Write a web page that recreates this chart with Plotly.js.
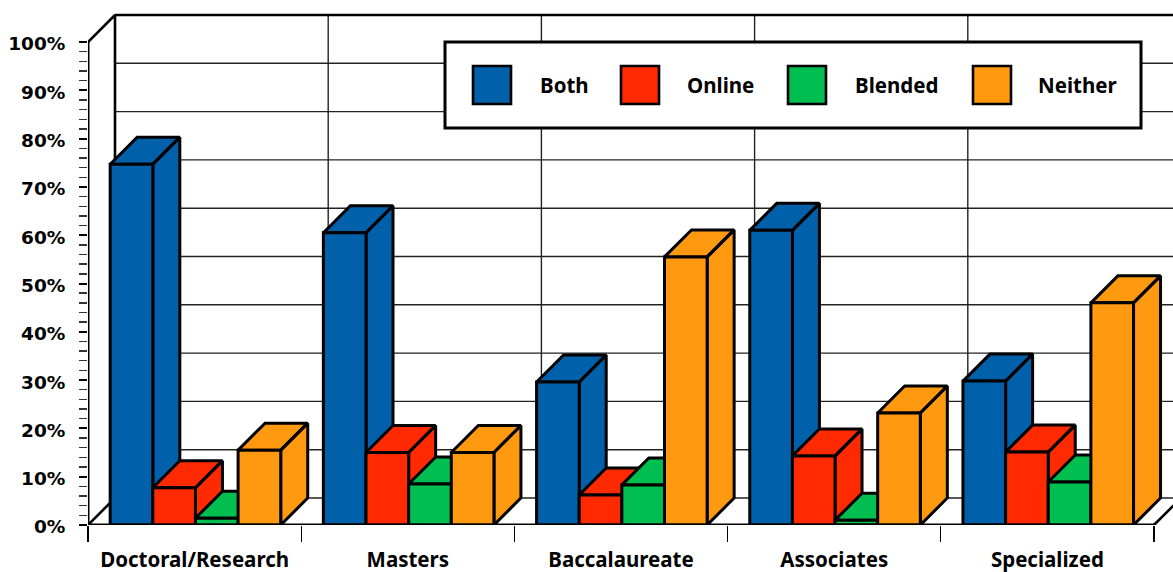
<!DOCTYPE html>
<html>
<head>
<meta charset="utf-8">
<script src="https://cdn.plot.ly/plotly-3.0.1.min.js"></script>
<style>html,body{margin:0;padding:0;background:#fff;overflow:hidden}#chart{width:1173px;height:572px}</style>
</head>
<body>
<div id="chart"></div>
<script>
const categories = ["Doctoral/Research", "Masters", "Baccalaureate", "Associates", "Specialized"];
const seriesNames = ["Both", "Online", "Blended", "Neither"];
const both = [74.7, 60.5, 29.6, 61.0, 29.8];
const online = [7.7, 15.0, 6.2, 14.3, 15.1];
const blended = [1.4, 8.5, 8.3, 1.0, 8.9];
const neither = [15.5, 15.0, 55.5, 23.2, 46.0];
const seriesValues = [both, online, blended, neither];
const seriesColors = ["#0060AA", "#FF2A00", "#00BF50", "#FF9A10"];
const yTicks = [0, 10, 20, 30, 40, 50, 60, 70, 80, 90, 100];
const yTickText = ["0%", "10%", "20%", "30%", "40%", "50%", "60%", "70%", "80%", "90%", "100%"];
const yMinor = [2,4,6,8,12,14,16,18,22,24,26,28,32,34,36,38,42,44,46,48,52,54,56,58,62,64,66,68,72,74,76,78,82,84,86,88,92,94,96,98];

const W = 1173, H = 572, L = 88, T = 13, B = 525;
const CAT_PX = 213.2, PCT_PX = 4.83, DEPTH_PX = 27;
const DEPTH_X = DEPTH_PX / CAT_PX;
const DEPTH_Y = DEPTH_PX / PCT_PX;
const BAR_W = 0.2, GROUP_START = 0.104;
const INK = "#000";
const labelFont = {family: "Noto Sans, sans-serif", size: 20.5, color: "#000", weight: 700};
const yFont = {family: "DejaVu Sans, sans-serif", size: 18.5, color: "#000", weight: 700};

const traces = [];
const n = categories.length;

// back wall grid
const gx = [], gy = [];
yTicks.forEach(t => { gx.push(DEPTH_X, n + DEPTH_X, null); gy.push(t + DEPTH_Y, t + DEPTH_Y, null); });
for (let i = 1; i <= n; i++) { gx.push(i + DEPTH_X, i + DEPTH_X, null); gy.push(DEPTH_Y, 100 + DEPTH_Y, null); }
traces.push({type: "scatter", mode: "lines", x: gx, y: gy, line: {color: "#222", width: 1.4},
  hoverinfo: "skip", showlegend: false, zorder: 0});

// wall edges
traces.push({type: "scatter", mode: "lines",
  x: [0, DEPTH_X, DEPTH_X, null, DEPTH_X, n + DEPTH_X, null, 0, DEPTH_X, null, n, n + DEPTH_X],
  y: [100, 100 + DEPTH_Y, DEPTH_Y, null, 100 + DEPTH_Y, 100 + DEPTH_Y, null, 0, DEPTH_Y, null, 0, DEPTH_Y],
  line: {color: INK, width: 2.6}, hoverinfo: "skip", showlegend: false, zorder: 0});

seriesValues.forEach((vals, s) => {
  const px = [], py = [];
  vals.forEach((v, i) => {
    const x0 = i + GROUP_START + s * BAR_W, x1 = x0 + BAR_W;
    px.push(x1, x1, x1 + DEPTH_X, x1 + DEPTH_X, x1, null);
    py.push(0, v, v + DEPTH_Y, DEPTH_Y, 0, null);
    px.push(x0, x1, x1 + DEPTH_X, x0 + DEPTH_X, x0, null);
    py.push(v, v, v + DEPTH_Y, v + DEPTH_Y, v, null);
  });
  traces.push({type: "scatter", mode: "lines", x: px, y: py, fill: "toself", fillcolor: seriesColors[s],
    line: {color: INK, width: 3, shape: "linear"}, hoverinfo: "skip",
    showlegend: false, zorder: 2 * s + 1});
  traces.push({type: "bar", name: seriesNames[s],
    x: vals.map((_, i) => i + GROUP_START + s * BAR_W + BAR_W / 2), y: vals, width: BAR_W,
    marker: {color: seriesColors[s], line: {color: INK, width: 3}},
    showlegend: false, zorder: 2 * s + 2});
});

// front axis lines
traces.push({type: "scatter", mode: "lines", x: [0, 0, n], y: [100, 0, 0],
  line: {color: INK, width: 3}, hoverinfo: "skip", showlegend: false, zorder: 20});

// legend panel, positioned in pixels and converted to paper space
const pxX = p => (p - L) / (W - L);
const pxY = p => (B - p) / (B - T);
const shapes = [{type: "rect", xref: "paper", yref: "paper", x0: pxX(445), x1: pxX(1141), y0: pxY(128), y1: pxY(42),
  fillcolor: "#fff", line: {color: INK, width: 3}, layer: "above"}];
const legendSwatchX = [473, 621, 788, 973];
const legendTextX = [564, 720, 896, 1077];
const annotations = [];
seriesNames.forEach((name, s) => {
  shapes.push({type: "rect", xref: "paper", yref: "paper", x0: pxX(legendSwatchX[s]), x1: pxX(legendSwatchX[s] + 38),
    y0: pxY(104), y1: pxY(66), fillcolor: seriesColors[s], line: {color: INK, width: 2.6}, layer: "above"});
  annotations.push({xref: "paper", yref: "paper", x: pxX(legendTextX[s]), y: pxY(85), text: "<b>" + name + "</b>",
    showarrow: false, xanchor: "center", yanchor: "middle", font: {family: labelFont.family, size: 20.5, color: "#000"}});
});

const layout = {
  width: W, height: H, autosize: false,
  margin: {l: L, r: 0, t: T, b: H - B, pad: 0},
  paper_bgcolor: "#fff", plot_bgcolor: "rgba(0,0,0,0)",
  showlegend: false, barmode: "overlay", hovermode: false,
  font: labelFont,
  xaxis: {range: [0, (W - L) / CAT_PX], tickmode: "array", tickvals: categories.map((_, i) => i + 0.5), ticktext: categories,
    ticks: "", showgrid: false, zeroline: false, showline: false,
    tickfont: labelFont, ticklabelstandoff: 20,
    minor: {tickmode: "array", tickvals: [0, 1, 2, 3, 4, 5], ticks: "outside", ticklen: 16, tickwidth: 1.2, tickcolor: INK, showgrid: false}},
  yaxis: {range: [0, (B - T) / PCT_PX], tickmode: "array", tickvals: yTicks, ticktext: yTickText,
    ticks: "outside", ticklen: 8, tickwidth: 2, tickcolor: INK, showgrid: false, zeroline: false,
    showline: false, tickfont: yFont, ticklabelstandoff: 10, ticklabelshift: 2,
    minor: {tickmode: "array", tickvals: yMinor, ticks: "outside", ticklen: 8, tickwidth: 1.4, tickcolor: "#333", showgrid: false}},
  shapes, annotations
};
Plotly.newPlot("chart", traces, layout, {staticPlot: true, displayModeBar: false, responsive: false});
</script>
</body>
</html>
